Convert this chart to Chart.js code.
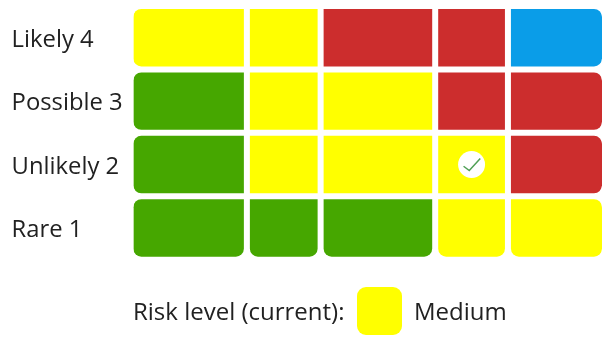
<!DOCTYPE html>
<html>
<head>
<meta charset="utf-8">
<style>
  html, body { margin: 0; padding: 0; background: #ffffff; }
  #wrap { position: relative; width: 602px; height: 337px; overflow: hidden; font-family: "Open Sans", sans-serif; color: #212121; }
  canvas { position: absolute; left: 0; top: 0; }
  .legend-text { position: absolute; top: 294px; font-size: 24px; line-height: 34px; white-space: nowrap; }
  #legend-swatch { position: absolute; left: 357px; top: 287px; width: 45px; height: 48px; border-radius: 9px; }
</style>
</head>
<body>
<div id="wrap">
  <canvas id="chart" width="602" height="337"></canvas>
  <span class="legend-text" id="legend-title" style="left:133px"></span>
  <div id="legend-swatch"></div>
  <span class="legend-text" id="legend-value" style="left:414px"></span>
</div>
<script src="https://cdn.jsdelivr.net/npm/chart.js@4"></script>
<script>
// Likelihood rows, top to bottom
const rowLabels = ["Likely 4", "Possible 3", "Unlikely 2", "Rare 1"];

// Horizontal extent of each consequence column
const columnSpans = [113.5, 73.7, 114.5, 72.7, 94];

// Risk level of each cell, one list per column
const column1 = ["medium", "low", "low", "low"];
const column2 = ["medium", "medium", "medium", "low"];
const column3 = ["high", "medium", "medium", "low"];
const column4 = ["high", "high", "medium", "medium"];
const column5 = ["extreme", "high", "high", "medium"];
const columns = [column1, column2, column3, column4, column5];

const levelColors = { low: "#46a700", medium: "#ffff00", high: "#cc2d2d", extreme: "#0a9de8" };

// Current position in the grid, and the legend wording
const currentRow = 2;
const currentColumn = 3;
const legendTitle = "Risk level (current):";
const legendValue = "Medium";

document.getElementById("legend-title").textContent = legendTitle;
document.getElementById("legend-value").textContent = legendValue;
document.getElementById("legend-swatch").style.background = levelColors[column4[currentRow]];

const CORNER = 11;
const GAP = 3;
const lastColumn = columns.length - 1;
const lastRow = rowLabels.length - 1;

// White circle with a tick over the current cell
const currentMarker = {
  id: "currentMarker",
  afterDatasetsDraw(chart) {
    const bar = chart.getDatasetMeta(currentColumn).data[currentRow];
    const c = bar.getCenterPoint();
    const ctx = chart.ctx;
    ctx.save();
    ctx.fillStyle = "#ffffff";
    ctx.beginPath();
    ctx.arc(c.x, c.y, 13.5, 0, Math.PI * 2);
    ctx.fill();
    ctx.strokeStyle = "#4f9f55";
    ctx.lineWidth = 1.5;
    ctx.beginPath();
    ctx.moveTo(c.x - 8, c.y + 1.7);
    ctx.lineTo(c.x - 2.3, c.y + 6);
    ctx.lineTo(c.x + 8.7, c.y - 6);
    ctx.stroke();
    ctx.restore();
  }
};

new Chart(document.getElementById("chart"), {
  type: "bar",
  plugins: [currentMarker],
  data: {
    labels: rowLabels,
    datasets: columns.map((levels, col) => ({
      data: rowLabels.map(() => columnSpans[col]),
      backgroundColor: levels.map(level => levelColors[level]),
      borderColor: "#ffffff",
      borderSkipped: false,
      inflateAmount: 0,
      borderWidth: {
        top: GAP,
        bottom: GAP,
        left: col === 0 ? 0 : GAP,
        right: col === lastColumn ? 0 : GAP
      },
      borderRadius: ctx => {
        const bottom = ctx.dataIndex === lastRow;
        return {
          topLeft: col === 0 ? CORNER : 0,
          bottomLeft: col === 0 || bottom ? CORNER : 0,
          topRight: col === lastColumn ? CORNER : 0,
          bottomRight: col === lastColumn || bottom ? CORNER : 0
        };
      }
    }))
  },
  options: {
    indexAxis: "y",
    responsive: false,
    animation: false,
    events: [],
    barPercentage: 1,
    categoryPercentage: 1,
    layout: { padding: { top: 6, bottom: 77.3, left: 11.6, right: 0 } },
    plugins: { legend: { display: false }, tooltip: { enabled: false }, title: { display: false } },
    scales: {
      x: {
        display: false,
        stacked: true,
        min: 0,
        max: columnSpans.reduce((a, b) => a + b, 0)
      },
      y: {
        stacked: true,
        grid: { display: false },
        border: { display: false },
        afterFit(scale) {
          scale.width = 121.7;
          scale.paddingTop = 0;
          scale.paddingBottom = 0;
        },
        ticks: {
          crossAlign: "far",
          padding: 0,
          labelOffset: 2.5,
          autoSkip: false,
          color: "#212121",
          font: { family: '"Open Sans", sans-serif', size: 23.8 }
        }
      }
    }
  }
});
</script>
</body>
</html>
